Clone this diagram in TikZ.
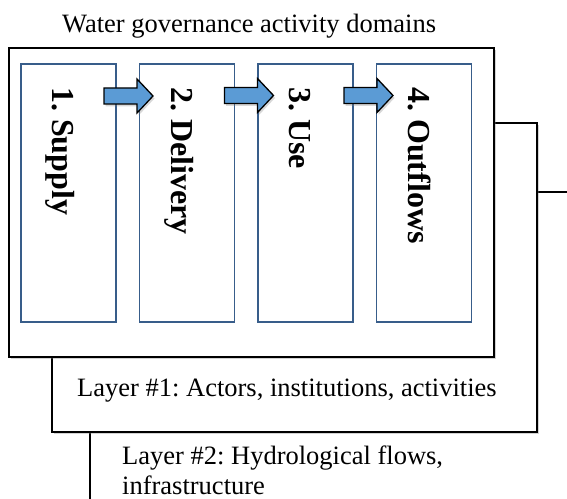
\documentclass[tikz,border=0pt]{standalone}
\usepackage{fontspec}
\setmainfont{Liberation Serif}
\usetikzlibrary{shadows}
\definecolor{boxline}{HTML}{385D8A}
\definecolor{arrowfill}{HTML}{5B9BD5}
\frenchspacing

\begin{document}
\begin{tikzpicture}[x=1bp,y=-1bp,
  layerframe/.style={draw=black,line width=2.8bp,fill=white,
    drop shadow={shadow xshift=1.8bp,shadow yshift=-1.8bp,opacity=0.35}},
  domainbox/.style={draw=boxline,line width=1.4bp,fill=white,
    minimum width=95bp,minimum height=258bp,inner sep=0pt},
  domainlabel/.style={rotate=-90,anchor=base west,inner sep=0pt,
    font=\fontsize{32bp}{36bp}\selectfont\bfseries},
  flowarrow/.style={draw=black,line width=1.3bp,fill=arrowfill,line join=miter,
    drop shadow={shadow xshift=1.5bp,shadow yshift=-2.5bp,opacity=0.3}},
  captiontext/.style={anchor=base west,inner sep=0pt,
    font=\fontsize{26.5bp}{30bp}\selectfont},
  pics/blockarrow/.style={code={
    \path[flowarrow] (0,-8) -- (33,-8) -- (33,-17) -- (49,0) -- (33,17)
      -- (33,8) -- (0,8) -- cycle;
    \coordinate (-tail) at (0,0);
    \coordinate (-tip) at (49,0);}}]

\useasboundingbox (0,0) rectangle (567,499);
\clip (0,0) rectangle (567,499);

% stacked layers, back to front
\draw[layerframe] (90,192) rectangle (620,560);
\draw[layerframe] (52,123) rectangle (537,432);
\draw[layerframe] (9,48) rectangle (494,357);

% titles of the frames
\node[captiontext] (title) at (62,33) {Water governance activity domains};
\node[captiontext] (layerone) at (77,396) {Layer \#1: Actors, institutions, activities};
\node[captiontext,align=left] (layertwo) at (122,494) {Layer \#2: Hydrological flows,\\infrastructure};

% activity domains
\node[domainbox] (d1) at (68.5,193) {};
\node[domainbox] (d2) at (187,193) {};
\node[domainbox] (d3) at (305.5,193) {};
\node[domainbox] (d4) at (424,193) {};

\node[domainlabel] (l1) at (52.5,87) {1. Supply};
\node[domainlabel] (l2) at (171,87) {2. Delivery};
\node[domainlabel] (l3) at (289.5,87) {3. Use};
\node[domainlabel] (l4) at (408,87) {4. Outflows};

% flow between domains
\pic (f12) at (104,96) {blockarrow};
\pic (f23) at (224.5,95.5) {blockarrow};
\pic (f34) at (344,95.5) {blockarrow};
\end{tikzpicture}
\end{document}
